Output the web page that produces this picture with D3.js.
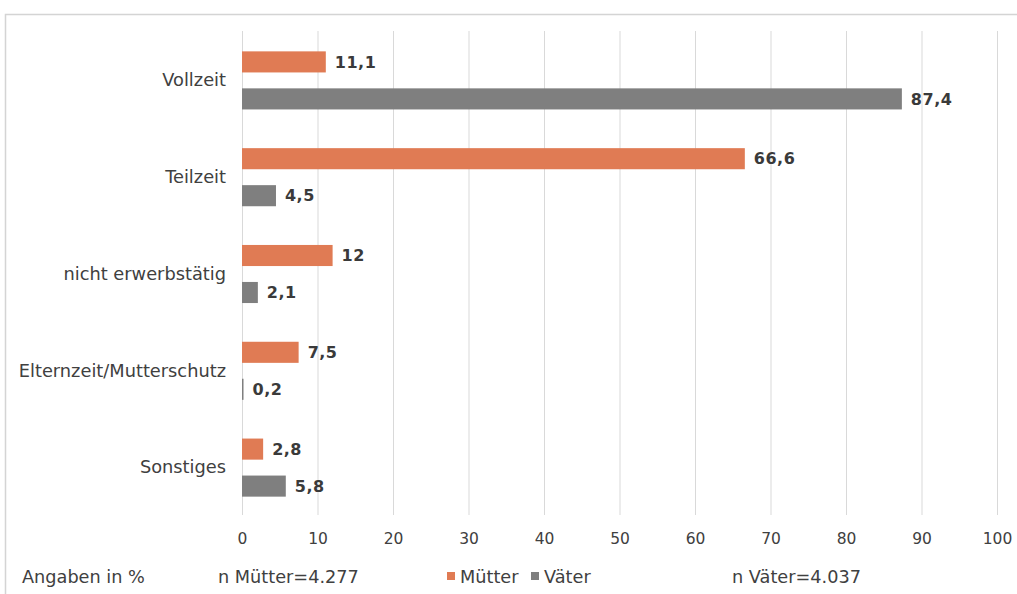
<!DOCTYPE html>
<html><head><meta charset="utf-8">
<script src="https://cdn.jsdelivr.net/npm/d3@7"></script>
<style>body{margin:0;background:#fff}svg{display:block}</style>
</head><body>
<script>
const categories = ["Vollzeit","Teilzeit","nicht erwerbstätig","Elternzeit/Mutterschutz","Sonstiges"];
const series = ["Mütter","Väter"];
const muetter = [11.1, 66.6, 12, 7.5, 2.8];
const vaeter = [87.4, 4.5, 2.1, 0.2, 5.8];
const xTicks = [0,10,20,30,40,50,60,70,80,90,100];
const colors = ["#E07B54","#7F7F7F"];
const notes = {left:"Angaben in %", nM:"n Mütter=4.277", nV:"n Väter=4.037"};

const W=1017,H=594;
const svg=d3.select("body").append("svg").attr("width",W).attr("height",H);
svg.append("rect").attr("x",5.5).attr("y",14.5).attr("width",W+10).attr("height",H+10)
  .attr("fill","none").attr("stroke","#d4d4d4").attr("stroke-width",1.5);

const x=d3.scaleLinear().domain([0,100]).range([242,997]);
const y=d3.scaleBand().domain(categories).range([32,516]).paddingInner(0.4).paddingOuter(0.2);
const y0=d3.scaleBand().domain(series).range([0,y.bandwidth()]).paddingInner(0.43);

// gridlines
svg.append("g").selectAll("line").data(xTicks).join("line")
  .attr("x1",d=>x(d)+0.5).attr("x2",d=>x(d)+0.5).attr("y1",31).attr("y2",515)
  .attr("stroke","#d9d9d9").attr("stroke-width",1);

// axis tick labels
const ax=d3.axisBottom(x).tickValues(xTicks).tickSize(0).tickPadding(0);
const axg=svg.append("g").attr("transform","translate(0,533)").call(ax);
axg.select(".domain").remove();
axg.selectAll("text").attr("font-family","DejaVu Sans").attr("font-size",15.5).attr("fill","#404040");

// category labels
const yaxis=d3.axisLeft(y).tickSize(0).tickPadding(16);
const yg=svg.append("g").attr("transform","translate(242,0)").call(yaxis);
yg.select(".domain").remove();
yg.selectAll("text").attr("font-family","DejaVu Sans").attr("font-size",17.8).attr("fill","#404040");

// bars
const rows=categories.map((c,i)=>({c,vals:[{s:"Mütter",v:muetter[i]},{s:"Väter",v:vaeter[i]}]}));
const g=svg.append("g").selectAll("g").data(rows).join("g").attr("transform",d=>`translate(0,${y(d.c)})`);
g.selectAll("rect").data(d=>d.vals).join("rect")
  .attr("x",x(0)).attr("y",d=>y0(d.s)).attr("height",y0.bandwidth())
  .attr("width",d=>Math.max(x(d.v)-x(0),1.5)).attr("fill",(d,i)=>colors[i]);
g.selectAll("text").data(d=>d.vals).join("text")
  .attr("x",d=>x(d.v)+9).attr("y",d=>y0(d.s)+y0.bandwidth()/2).attr("dy","0.36em")
  .attr("font-family","DejaVu Sans").attr("font-size",16).attr("font-weight","bold").attr("letter-spacing",0.5)
  .attr("fill","#3a3a3a").text(d=>String(d.v).replace(".",","));

// bottom notes and legend
const by=577;
const txt=(xx,t)=>svg.append("text").attr("x",xx).attr("y",by).attr("dy","0.36em")
  .attr("font-family","DejaVu Sans").attr("font-size",17.7).attr("fill","#404040").text(t);
txt(22,notes.left); txt(218,notes.nM); txt(732,notes.nV);
const leg=svg.append("g").selectAll("g").data(series).join("g")
  .attr("transform",(d,i)=>`translate(${[447,531][i]},${by})`);
leg.append("rect").attr("x",0).attr("y",-5).attr("width",8).attr("height",8).attr("fill",(d,i)=>colors[i]);
leg.append("text").attr("x",13).attr("dy","0.36em").attr("font-family","DejaVu Sans")
  .attr("font-size",17.7).attr("fill","#404040").text(d=>d);
</script>
</body></html>
